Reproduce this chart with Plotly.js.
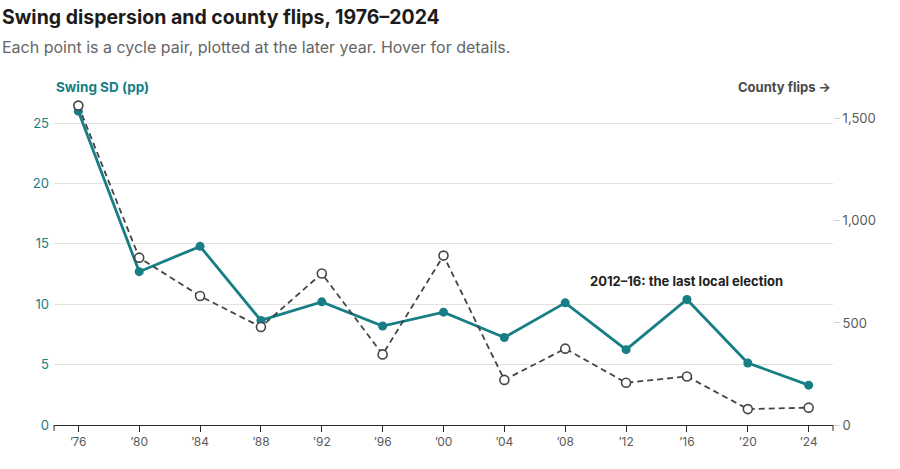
<!DOCTYPE html>
<html>
<head>
<meta charset="utf-8">
<script src="https://cdn.plot.ly/plotly-3.0.1.min.js"></script>
<style>
  html, body { margin: 0; padding: 0; background: #fff; }
  #chart { width: 900px; height: 469px; }
</style>
</head>
<body>
<div id="chart"></div>
<script>
// Each point is a pair of consecutive presidential cycles, placed at the later year.
const years = [1976, 1980, 1984, 1988, 1992, 1996, 2000, 2004, 2008, 2012, 2016, 2020, 2024];
const yearLabels = ['’76', '’80', '’84', '’88', '’92', '’96', '’00', '’04', '’08', '’12', '’16', '’20', '’24'];
const swingSD = [26.0, 12.7, 14.8, 8.66, 10.2, 8.2, 9.35, 7.25, 10.12, 6.24, 10.4, 5.14, 3.3];
const countyFlips = [1565, 820, 632, 480, 742, 346, 830, 221, 374, 207, 238, 78, 85];

const TEAL = '#167e84';
const DARK = '#454545';
const FONT = 'Inter, "Noto Sans", sans-serif';

const plotTop = 95, plotBottom = 425.5;
const plotH = plotBottom - plotTop;

const traces = [
  {
    x: years, y: countyFlips, yaxis: 'y2', type: 'scatter', mode: 'lines+markers',
    name: 'County flips',
    line: { color: DARK, width: 1.8, dash: '6px,4px' },
    marker: { size: 9, color: '#ffffff', line: { color: DARK, width: 1.6 } },
    hovertemplate: '%{x}: %{y:,} county flips<extra></extra>'
  },
  {
    x: years, y: swingSD, type: 'scatter', mode: 'lines+markers',
    name: 'Swing SD (pp)',
    line: { color: TEAL, width: 2.8 },
    marker: { size: 9, color: TEAL },
    hovertemplate: '%{x}: swing SD %{y:.1f} pp<extra></extra>'
  }
];

const layout = {
  width: 900, height: 469,
  margin: { l: 54, r: 67, t: plotTop, b: 469 - plotBottom, pad: 0 },
  paper_bgcolor: '#ffffff', plot_bgcolor: '#ffffff',
  font: { family: FONT, color: '#555' },
  showlegend: false,
  hovermode: 'closest',
  xaxis: {
    range: [1974.4, 2025.6],
    tickmode: 'array', tickvals: years, ticktext: yearLabels,
    showgrid: false, zeroline: false,
    showline: true, linecolor: '#2a2a2a', linewidth: 1,
    ticks: 'outside', ticklen: 6, tickcolor: '#2a2a2a', tickwidth: 1,
    tickfont: { size: 12, color: '#5a5a5a', family: FONT },
    fixedrange: true
  },
  yaxis: {
    range: [0, plotH / 12.09],
    tickvals: [0, 5, 10, 15, 20, 25],
    showgrid: true, gridcolor: '#e3e1dd', gridwidth: 1,
    zeroline: false, showline: false, ticks: '',
    ticklabelstandoff: 4,
    tickfont: { size: 13, color: TEAL, family: FONT },
    fixedrange: true
  },
  yaxis2: {
    overlaying: 'y', side: 'right',
    range: [0, plotH / 0.2044],
    tickvals: [0, 500, 1000, 1500],
    tickformat: ',',
    showgrid: false, zeroline: false, showline: false,
    ticks: 'outside', ticklen: 6, tickcolor: '#d4d4d4', tickwidth: 1,
    tickfont: { size: 13, color: '#5a5a5a', family: FONT },
    fixedrange: true
  },
  shapes: [
    // end ticks on the x-axis baseline
    { type: 'line', xref: 'paper', yref: 'paper', x0: 0, x1: 0, y0: 0, y1: -6 / plotH,
      line: { color: '#2a2a2a', width: 1 } },
    { type: 'line', xref: 'paper', yref: 'paper', x0: 1, x1: 1, y0: 0, y1: -6 / plotH,
      line: { color: '#2a2a2a', width: 1 } }
  ],
  annotations: [
    { text: '<b>Swing dispersion and county flips, 1976–2024</b>',
      xref: 'paper', yref: 'paper', x: -54 / 779, xanchor: 'left',
      y: 1 + (plotTop - 17) / plotH, yanchor: 'middle', showarrow: false,
      font: { size: 19.5, color: '#1c1c1c', family: FONT } },
    { text: 'Each point is a cycle pair, plotted at the later year. Hover for details.',
      xref: 'paper', yref: 'paper', x: -54 / 779, xanchor: 'left',
      y: 1 + (plotTop - 47) / plotH, yanchor: 'middle', showarrow: false,
      font: { size: 16, color: '#666', family: FONT } },
    { text: '<b>Swing SD (pp)</b>',
      xref: 'paper', yref: 'paper', x: 0, xanchor: 'left',
      y: 1 + (plotTop - 87) / plotH, yanchor: 'middle', showarrow: false,
      font: { size: 13.5, color: TEAL, family: FONT } },
    { text: '<b>County flips →</b>',
      xref: 'paper', yref: 'paper', x: 1, xanchor: 'right',
      y: 1 + (plotTop - 87) / plotH, yanchor: 'middle', showarrow: false,
      font: { size: 13, color: '#4a4a4a', family: FONT } },
    { text: '<b>2012–16: the last local election</b>',
      x: years[10], y: swingSD[10], xref: 'x', yref: 'y',
      xanchor: 'center', yanchor: 'middle', yshift: 18, showarrow: false,
      font: { size: 13, color: '#222', family: FONT } }
  ]
};

Plotly.newPlot('chart', traces, layout, { displayModeBar: false, responsive: false });
</script>
</body>
</html>
